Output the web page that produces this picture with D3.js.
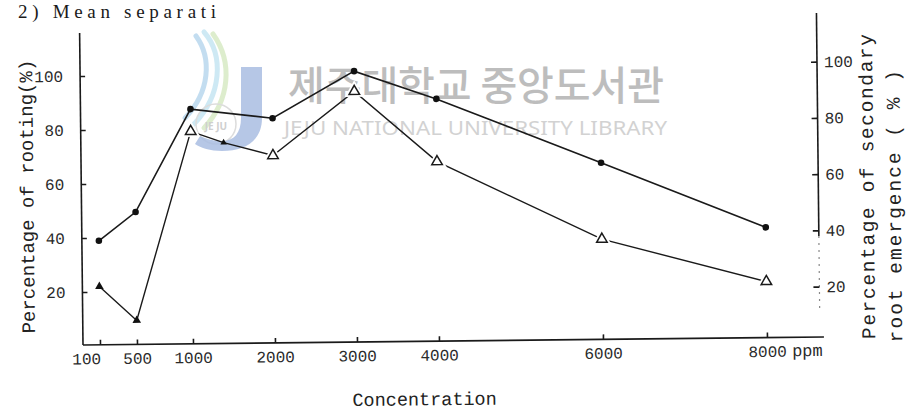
<!DOCTYPE html>
<html><head><meta charset="utf-8">
<script src="https://cdn.jsdelivr.net/npm/d3@7"></script>
<style>
html,body{margin:0;padding:0;background:#fff;}
svg{display:block;}
</style></head>
<body>
<svg id="chart" width="910" height="414"></svg>
<script>
// ---- data ----
const concentrations = [100, 500, 1000, 2000, 3000, 4000, 6000, 8000];
const concentrationLabels = ["100", "500", "1000", "2000", "3000", "4000", "6000", "8000"];
const rootingPct = [38.9, 49.4, 87.3, 83.6, 100.7, 90.1, 65.8, 41.2];
const emergenceConc = [100, 500, 1000, 1400, 2000, 3000, 4000, 6000, 8000];
const emergencePct = [22.8, 10.6, 77.6, 73.5, 68.7, 91.2, 65.9, 37.7, 22.0];
const leftTicks = [20, 40, 60, 80, 100];
const rightTicks = [20, 40, 60, 80, 100];
const unitLabel = "ppm";
const xTitle = "Concentration";
const leftTitle = "Percentage of rooting(%)";
const rightTitle = ["Percentage of secondary", "root emergence ( % )"];
const headerText = "2)  Mean  separati";
const watermarkKo = "제주대학교 중앙도서관";
const watermarkEn = "JEJU NATIONAL UNIVERSITY LIBRARY";

const svg = d3.select("#chart");
const mono = "'Liberation Mono','DejaVu Sans Mono',monospace";
const ink = "#1a1a1a";

// ---- watermark (underneath) ----
const wm = svg.append("g").attr("class", "watermark");
[["#b9dff0", "M204,32 C224,55 222,95 194,124"],
 ["#cfe6b8", "M213,34 C233,62 230,100 204,128"],
 ["#a9cfe9", "M196,36 C212,58 210,92 185,118"]].forEach(([c, p]) => {
  wm.append("path").attr("d", p).attr("fill", "none").attr("stroke", c)
    .attr("stroke-width", 5).attr("stroke-linecap", "round").attr("opacity", 0.7);
});
wm.append("circle").attr("cx", 216).attr("cy", 124).attr("r", 20)
  .attr("fill", "none").attr("stroke", "#dcdcdc").attr("stroke-width", 1.5);
wm.append("text").attr("x", 216).attr("y", 130).attr("text-anchor", "middle")
  .attr("font-family", "'Noto Sans',sans-serif").attr("font-size", 10).attr("font-weight", 700)
  .attr("fill", "#cfcfcf").text("JE JU");
wm.append("path")
  .attr("d", "M241,67 H262 V118 C262,141 245,151 222,151 C210,151 201,148 195,144 L200,136 C206,139 214,141 222,141 C234,141 241,133 241,118 Z")
  .attr("fill", "#a9bde2").attr("opacity", 0.85);
wm.append("text").attr("x", 288).attr("y", 100)
  .attr("font-family", "'Noto Sans CJK KR',sans-serif").attr("font-size", 40).attr("font-weight", 500)
  .attr("fill", "#bdbdbd").attr("textLength", 376).attr("lengthAdjust", "spacing")
  .text(watermarkKo);
wm.append("text").attr("x", 284).attr("y", 135)
  .attr("font-family", "'Noto Sans',sans-serif").attr("font-size", 20)
  .attr("fill", "#d2d2d2").attr("textLength", 383).attr("lengthAdjust", "spacingAndGlyphs")
  .text(watermarkEn);

// ---- header ----
svg.append("text").attr("x", 18).attr("y", 18)
  .attr("font-family", "'Liberation Serif',serif").attr("font-size", 19)
  .attr("fill", ink).attr("textLength", 198).attr("lengthAdjust", "spacing")
  .text(headerText);

// ---- chart frame (scan is slightly rotated) ----
const g = svg.append("g").attr("transform", "translate(83,345) rotate(-0.62)");

const x = d3.scaleLinear().domain([100, 500, 1000, 8000]).range([17, 54, 110, 684]);
const yL = d3.scaleLinear().domain([0, 100]).range([1, -269]);
const yR = d3.scaleLinear().domain([0, 100]).range([5.8, -275.4]);

// axis lines
g.append("line").attr("x1", 0).attr("y1", 0).attr("x2", 0).attr("y2", -312)
  .attr("stroke", ink).attr("stroke-width", 1.6);
g.append("line").attr("x1", 0).attr("y1", 0).attr("x2", 741).attr("y2", 0)
  .attr("stroke", ink).attr("stroke-width", 1.6);
g.append("line").attr("x1", 737).attr("y1", -324).attr("x2", 737).attr("y2", yR(38))
  .attr("stroke", ink).attr("stroke-width", 1.6);
g.append("line").attr("x1", 737).attr("y1", yR(38)).attr("x2", 737).attr("y2", yR(12))
  .attr("stroke", "#888").attr("stroke-width", 1.2).attr("stroke-dasharray", "2,5");

function styleAxis(sel) {
  sel.select(".domain").remove();
  sel.selectAll(".tick line").attr("stroke", ink).attr("stroke-width", 1.6);
  sel.selectAll(".tick text").attr("font-family", mono).attr("font-size", 16).attr("fill", "#2a2a2a");
}

const axL = g.append("g")
  .call(d3.axisLeft(yL).tickValues(leftTicks).tickSizeInner(-5).tickSizeOuter(0).tickPadding(17));
styleAxis(axL);

const axR = g.append("g").attr("transform", "translate(737,0)")
  .call(d3.axisRight(yR).tickValues(rightTicks).tickSizeInner(-6).tickSizeOuter(0).tickPadding(7));
styleAxis(axR);

const axB = g.append("g")
  .call(d3.axisBottom(x).tickValues(concentrations)
    .tickFormat((d, i) => concentrationLabels[i]).tickSizeInner(-5).tickSizeOuter(0).tickPadding(8));
styleAxis(axB);
axB.selectAll(".tick text").attr("dx", (d, i) => i === 0 ? -14 : 0);

g.append("text").attr("x", x(8000) + 25).attr("y", 19)
  .attr("font-family", mono).attr("font-size", 17).attr("fill", "#2a2a2a").text(unitLabel);

// titles
g.append("text").attr("x", 341).attr("y", 64).attr("text-anchor", "middle")
  .attr("font-family", mono).attr("font-size", 18.5).attr("fill", "#222").text(xTitle);
g.append("text").attr("transform", "translate(-54,-149) rotate(-90)")
  .attr("text-anchor", "middle").attr("dy", "0.32em")
  .attr("font-family", mono).attr("font-size", 19).attr("fill", "#222").text(leftTitle);
[[786, -150, 305], [813, -130, 272]].forEach(([cx, cy, len], i) => {
  g.append("text").attr("transform", `translate(${cx},${cy}) rotate(-90)`)
    .attr("text-anchor", "middle").attr("dy", "0.32em")
    .attr("font-family", mono).attr("font-size", 19.5).attr("fill", "#222")
    .attr("textLength", len).attr("lengthAdjust", "spacing").text(rightTitle[i]);
});

// ---- series ----
const rooting = concentrations.map((c, i) => ({c, v: rootingPct[i]}));
const emergence = emergenceConc.map((c, i) => ({c, v: emergencePct[i]}));

g.append("path").datum(emergence)
  .attr("d", d3.line().x(d => x(d.c)).y(d => yR(d.v)))
  .attr("fill", "none").attr("stroke", ink).attr("stroke-width", 1.4);

g.append("path").datum(rooting)
  .attr("d", d3.line().x(d => x(d.c)).y(d => yL(d.v)))
  .attr("fill", "none").attr("stroke", ink).attr("stroke-width", 1.6);

g.selectAll("circle.rt").data(rooting).enter().append("circle").attr("class", "rt")
  .attr("cx", d => x(d.c)).attr("cy", d => yL(d.v)).attr("r", 3.3).attr("fill", "#111");

const isFilled = (d, i) => i < 2 || d.c === 1400;
const tri = g.selectAll("g.em").data(emergence).enter().append("g").attr("class", "em")
  .attr("transform", d => `translate(${x(d.c)},${yR(d.v)})`);
tri.append("path")
  .attr("d", (d, i) => d3.symbol(d3.symbolTriangle, isFilled(d, i) ? (d.c === 1400 ? 18 : 32) : 48)())
  .attr("fill", (d, i) => isFilled(d, i) ? "#111" : "#fff")
  .attr("stroke", (d, i) => isFilled(d, i) ? "none" : "#fff").attr("stroke-width", 5);
tri.filter((d, i) => !isFilled(d, i)).append("path")
  .attr("d", d3.symbol(d3.symbolTriangle, 48)())
  .attr("fill", "#fff").attr("stroke", ink).attr("stroke-width", 1.5);
</script>
</body></html>
